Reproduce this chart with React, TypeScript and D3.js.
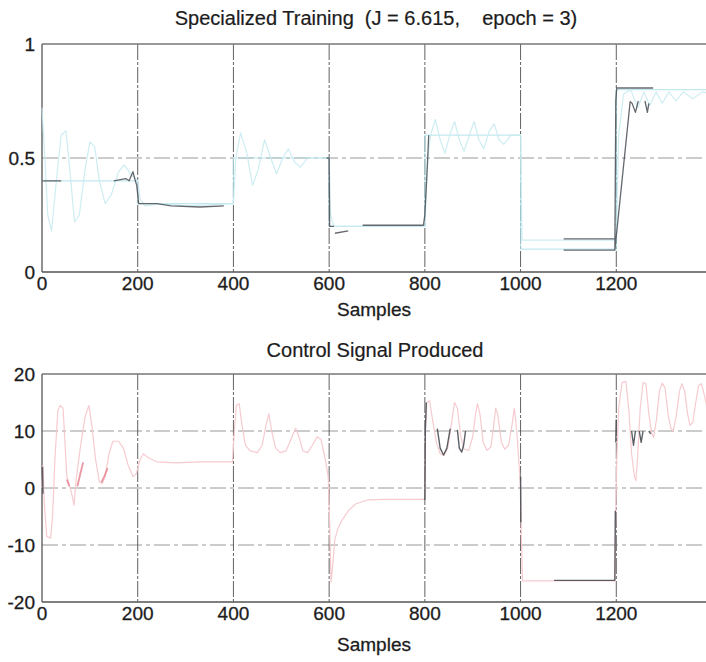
import React from "react";
import * as d3 from "d3";

// ---------- data ----------
const xTicks = [0, 200, 400, 600, 800, 1000, 1200];
const topYTicks = [0, 0.5, 1];
const topYTickLabels = ["0", "0.5", "1"];
const botYTicks = [-20, -10, 0, 10, 20];
const botYTickLabels = ["-20", "-10", "0", "10", "20"];

// top: reference steps (light cyan)
const topRefX = [0, 200, 200, 400, 400, 600, 600, 800, 800, 1000, 1000, 1200, 1200, 1400];
const topRefY = [0.4, 0.4, 0.3, 0.3, 0.5, 0.5, 0.2, 0.2, 0.6, 0.6, 0.1, 0.1, 0.8, 0.8];

// top: plant output (light cyan, oscillating)
const topOutX = [0, 6, 12, 20, 30, 40, 50, 58, 68, 78, 90, 100, 110, 120, 132, 145, 160, 172, 185, 195, 200, 205, 215, 250, 300, 400,
  405, 415, 428, 440, 452, 465, 478, 490, 503, 515, 528, 540, 555, 600, 603, 610, 800,
  806, 812, 822, 832, 842, 852, 862, 872, 882, 893, 903, 913, 923, 935, 945, 955, 965, 980, 1000,
  1003, 1010, 1200, 1205, 1215, 1230, 1245, 1258, 1270, 1283, 1296, 1310, 1325, 1340, 1360, 1380, 1400];
const topOutY = [0.72, 0.5, 0.25, 0.18, 0.4, 0.6, 0.62, 0.45, 0.22, 0.25, 0.45, 0.57, 0.55, 0.4, 0.3, 0.34, 0.44, 0.47, 0.43, 0.41, 0.4, 0.32, 0.29, 0.3, 0.29, 0.3,
  0.5, 0.61, 0.52, 0.38, 0.45, 0.58, 0.5, 0.43, 0.5, 0.54, 0.48, 0.46, 0.5, 0.5, 0.25, 0.2, 0.2,
  0.5, 0.6, 0.67, 0.58, 0.52, 0.6, 0.66, 0.58, 0.53, 0.6, 0.66, 0.58, 0.54, 0.62, 0.65, 0.58, 0.56, 0.6, 0.6,
  0.14, 0.14, 0.14, 0.6, 0.78, 0.8, 0.72, 0.79, 0.73, 0.79, 0.74, 0.79, 0.75, 0.79, 0.76, 0.79, 0.78];

// top: network output (dark gray, with gaps)
const topNetX = [0, 40, NaN, 150, 175, 182, 190, 195, 198, 202, 240, 270, 330, 380, NaN,
  595, 600, 601, 610, NaN, 612, 640, NaN, 670, 797, 800, 806, 808, NaN,
  1090, 1200, NaN, 1090, 1197, 1199, 1201, 1277, NaN,
  1197, 1229, 1233, 1240, 1246, NaN, 1260, 1265, 1268];
const topNetY = [0.4, 0.4, NaN, 0.4, 0.41, 0.4, 0.44, 0.4, 0.38, 0.3, 0.3, 0.29, 0.285, 0.29, NaN,
  0.5, 0.5, 0.2, 0.2, NaN, 0.17, 0.18, NaN, 0.205, 0.205, 0.25, 0.5, 0.6, NaN,
  0.145, 0.145, NaN, 0.096, 0.096, 0.75, 0.807, 0.807, NaN,
  0.096, 0.747, 0.74, 0.7, 0.75, NaN, 0.75, 0.7, 0.74];

// bottom: control signal (pink)
const botCtlX = [0, 2, 5, 10, 18, 22, 27, 33, 38, 44, 48, 52, 57, 62, 67, 72, 80, 90, 98, 104, 112, 120, 126, 132, 140, 148, 160, 170, 180, 190, 197, 205, 212, 222, 240, 280, 330, 398,
  402, 406, 412, 418, 425, 435, 450, 460, 468, 474, 480, 488, 498, 510, 520, 530, 537, 545, 555, 565, 575, 583, 592, 598,
  601, 604, 607, 612, 618, 628, 640, 655, 680, 720, 798,
  800, 801, 804, 810, 816, 824, 832, 840, 848, 855, 862, 868, 875, 882, 892, 900, 906, 910, 915, 922, 930, 938, 944, 948, 952, 960, 967, 975, 982, 987, 992, 997,
  1000, 1002, 1004, 1100, 1197, 1199, 1201, 1205, 1212, 1220, 1226, 1232, 1238, 1241, 1245, 1250, 1256, 1262, 1268, 1274, 1278,
  1284, 1290, 1296, 1302, 1308, 1314, 1319, 1325, 1332, 1337, 1343, 1349, 1354, 1360, 1366, 1372, 1378, 1385, 1392, 1400];
const botCtlY = [0, 4, -3, -8.5, -8.8, -5, 5, 13.5, 14.5, 14, 8, 2, 0.5, -1, -3, 2, 7, 12.5, 14.5, 11, 5, 1, 0.8, 2, 6, 8.2, 8.2, 7, 4, 2, 2.5, 5, 6, 5.3, 4.6, 4.4, 4.6, 4.6,
  10, 14.5, 14.8, 11, 7.5, 6.5, 6.2, 7.5, 11, 13, 10, 7, 6.2, 6.5, 8.5, 10.5, 9, 6.5, 6.2, 7.5, 9, 8.5, 5, 2,
  -6, -16.5, -14, -9, -7.2, -5.5, -4, -2.8, -2.1, -2, -2,
  -2, 10, 15, 15.3, 12, 8, 6, 5.7, 7, 11, 15, 14, 9, 6.8, 6.6, 9, 13, 14.8, 13, 8, 6.6, 7.2, 11, 14, 13, 8, 6.8, 7.5, 11, 14, 10, 4,
  0, -10, -16.3, -16.3, -16.3, -4, 5, 14, 18.5, 18.7, 14, 6, 2, 1.3, 6, 14, 18.5, 18.3, 13, 9.5, 8.9,
  12, 17, 18.4, 17.5, 13, 10.5, 10, 12.5, 17, 18.3, 17, 13, 11, 11.5, 15, 18, 18.3, 16, 13, 11.5];

// bottom: darker red fragments
const botRedX = [52, 57, NaN, 74, 80, 86, NaN, 124, 130, 137];
const botRedY = [1.5, 0.3, NaN, 0.3, 2.5, 4.5, NaN, 1, 2, 3.5];

// bottom: dark gray fragments
const botDarkX = [1, 2, NaN, 798, 800, 801, 803, NaN, 826, 832, 839, 846, 853, NaN, 868, 872, 877, 881, 885, NaN,
  1000, 1000.5, NaN, 1070, 1197, 1198, NaN, 1199, 1200, NaN, 1232, 1236, 1240, NaN, 1248, 1252, 1256, NaN, 1268, 1272];
const botDarkY = [3.7, -1, NaN, -2, -2, 10, 15, NaN, 10.4, 7, 5.8, 7, 10.4, NaN, 10.2, 7, 6.3, 7.5, 10, NaN,
  2, -6, NaN, -16.2, -16.2, -4, NaN, 8, 12, NaN, 10, 7.5, 10, NaN, 10, 8, 10, NaN, 10, 9.5];

// ---------- layout ----------
const W = 706;
const H = 662;
const xLeft = 42;
const xRight = 712;
const FONT = "'Liberation Sans', Arial, sans-serif";
const TEXT = "#1c1c1c";

type Panel = { top: number; bottom: number; domain: [number, number] };
const topPanel: Panel = { top: 44, bottom: 272, domain: [0, 1] };
const botPanel: Panel = { top: 374, bottom: 602, domain: [-20, 20] };

const xScale = d3.scaleLinear().domain([0, 1400]).range([xLeft, xRight]);

function pts(xs: number[], ys: number[]): [number, number][] {
  return xs.map((x, i) => [x, ys[i]] as [number, number]);
}

function Series({ xs, ys, y, color, width, opacity }: { xs: number[]; ys: number[]; y: d3.ScaleLinear<number, number>; color: string; width: number; opacity?: number }) {
  const line = d3
    .line<[number, number]>()
    .defined((d) => !isNaN(d[0]) && !isNaN(d[1]))
    .x((d) => xScale(d[0]))
    .y((d) => y(d[1]));
  return <path d={line(pts(xs, ys)) || ""} fill="none" stroke={color} strokeWidth={width} strokeOpacity={opacity ?? 1} strokeLinejoin="round" />;
}

function Axes({ p, yTicks, yLabels, gridY }: { p: Panel; yTicks: number[]; yLabels: string[]; gridY: number[] }) {
  const y = d3.scaleLinear().domain(p.domain).range([p.bottom, p.top]);
  return (
    <g>
      {xTicks.slice(1).map((t) => (
        <line key={"gx" + t} x1={xScale(t)} x2={xScale(t)} y1={p.top} y2={p.bottom} stroke="#3a3a3a" strokeWidth={1} strokeDasharray="16 2 3 2" strokeOpacity={0.8} />
      ))}
      {gridY.map((t) => (
        <line key={"gy" + t} x1={xLeft} x2={W} y1={y(t)} y2={y(t)} stroke="#555" strokeWidth={1} strokeDasharray="16 4 4 4" strokeOpacity={0.6} />
      ))}
      <line x1={xLeft} x2={W} y1={p.top} y2={p.top} stroke="#777" strokeWidth={1.3} />
      <line x1={xLeft} x2={W} y1={p.bottom} y2={p.bottom} stroke="#555" strokeWidth={1.3} />
      <line x1={xLeft} x2={xLeft} y1={p.top} y2={p.bottom} stroke="#555" strokeWidth={1.3} />
      {yTicks.map((t, i) => (
        <text key={"yl" + t} x={35} y={y(t)} dy="0.35em" textAnchor="end" fontFamily={FONT} fontSize={19} fill={TEXT} stroke={TEXT} strokeWidth={0.3}>
          {yLabels[i]}
        </text>
      ))}
      {xTicks.map((t) => (
        <text key={"xl" + t} x={xScale(t)} y={p.bottom + 18} textAnchor="middle" fontFamily={FONT} fontSize={19} fill={TEXT} stroke={TEXT} strokeWidth={0.3}>
          {t}
        </text>
      ))}
    </g>
  );
}

export default function App() {
  const yTop = d3.scaleLinear().domain(topPanel.domain).range([topPanel.bottom, topPanel.top]);
  const yBot = d3.scaleLinear().domain(botPanel.domain).range([botPanel.bottom, botPanel.top]);
  return (
    <svg width={W} height={H} viewBox={`0 0 ${W} ${H}`} style={{ position: "absolute", left: 0, top: 0, background: "#fff" }}>
      <rect x={0} y={0} width={W} height={H} fill="#fff" />
      <text x={376} y={25} textAnchor="middle" fontFamily={FONT} fontSize={20} fill={TEXT} stroke={TEXT} strokeWidth={0.2} style={{ whiteSpace: "pre" }}>
        {"Specialized Training  (J = 6.615,    epoch = 3)"}
      </text>
      <Axes p={topPanel} yTicks={topYTicks} yLabels={topYTickLabels} gridY={[0.5]} />
      <Series xs={topRefX} ys={topRefY} y={yTop} color="#aee0e8" width={1.2} opacity={0.75} />
      <Series xs={topOutX} ys={topOutY} y={yTop} color="#c6eaf0" width={1.2} opacity={0.85} />
      <Series xs={topNetX} ys={topNetY} y={yTop} color="#4a4f55" width={1.3} opacity={0.85} />
      <text x={374} y={316} textAnchor="middle" fontFamily={FONT} fontSize={19} fill={TEXT} stroke={TEXT} strokeWidth={0.3}>Samples</text>

      <text x={375} y={357} textAnchor="middle" fontFamily={FONT} fontSize={20} fill={TEXT} stroke={TEXT} strokeWidth={0.2}>Control Signal Produced</text>
      <Axes p={botPanel} yTicks={botYTicks} yLabels={botYTickLabels} gridY={[-10, 0, 10]} />
      <Series xs={botCtlX} ys={botCtlY} y={yBot} color="#f6c8ce" width={1.2} opacity={0.95} />
      <Series xs={botRedX} ys={botRedY} y={yBot} color="#e68593" width={1.8} opacity={0.85} />
      <Series xs={botDarkX} ys={botDarkY} y={yBot} color="#4a4f55" width={1.4} opacity={0.9} />
      <text x={374} y={651} textAnchor="middle" fontFamily={FONT} fontSize={19} fill={TEXT} stroke={TEXT} strokeWidth={0.3}>Samples</text>
    </svg>
  );
}
